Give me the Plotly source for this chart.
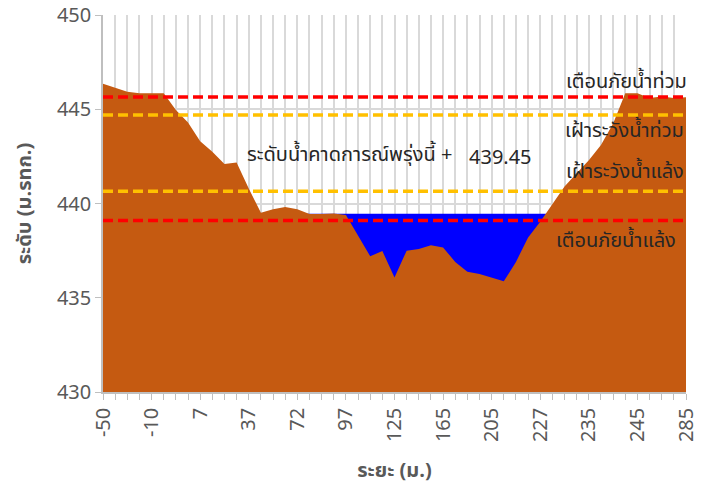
import plotly.graph_objects as go

# Cross-section: ground elevation at each survey station (m. MSL)
station_labels = ["-50", "-10", "7", "37", "72", "97", "125", "165",
                  "205", "227", "235", "245", "285"]
ground_level = [446.35, 446.15, 445.93, 445.85, 445.85, 445.85, 444.96, 444.30,
                443.30, 442.75, 442.10, 442.18, 440.80, 439.51, 439.69, 439.81,
                439.69, 439.44, 439.44, 439.47, 439.39, 438.30, 437.20, 437.48,
                436.08, 437.50, 437.59, 437.78, 437.67, 436.90, 436.38, 436.26,
                436.08, 435.87, 436.90, 438.20, 439.03, 440.00, 440.90, 441.60,
                442.30, 443.10, 444.25, 445.85, 445.85, 445.60, 445.67, 445.60,
                445.63]
forecast_level = 439.45

# Threshold levels
flood_warning = 445.65
flood_watch = 444.70
drought_watch = 440.65
drought_warning = 439.10

n = len(ground_level)
idx = list(range(n))
tick_idx = list(range(0, n, 4))

fig = go.Figure()

# Forecast water surface, drawn first so the ground profile covers it
fig.add_trace(go.Scatter(
    x=idx, y=[forecast_level] * n, mode="lines", line=dict(width=0, color="#0000FF"),
    fill="tozeroy", fillcolor="#0000FF", hoverinfo="skip", showlegend=False))

fig.add_trace(go.Scatter(
    x=idx, y=ground_level, mode="lines", line=dict(width=0, color="#C55A11"),
    fill="tozeroy", fillcolor="#C55A11", showlegend=False))

for level, color in [(flood_warning, "#FF0000"), (flood_watch, "#FFC000"),
                     (drought_watch, "#FFC000"), (drought_warning, "#FF0000")]:
    fig.add_shape(type="line", xref="x", yref="y", x0=0, x1=n - 1, y0=level, y1=level,
                  line=dict(color=color, width=3.5, dash="10px,5px"), layer="above")

thai_font = "Noto Sans Thai, Noto Sans, Tahoma, sans-serif"
label_font = dict(family=thai_font, size=20, color="#262626")

fig.add_annotation(x=n - 1, y=446.45, text="เตือนภัยน้ำท่วม", xanchor="right", xshift=3,
                   showarrow=False, font=label_font)
fig.add_annotation(x=n - 1, y=443.85, text="เฝ้าระวังน้ำท่วม", xanchor="right", xshift=0,
                   showarrow=False, font=label_font)
fig.add_annotation(x=n - 1, y=441.67, text="เฝ้าระวังน้ำแล้ง", xanchor="right", xshift=0,
                   showarrow=False, font=label_font)
fig.add_annotation(x=n - 1, y=438.0, text="เตือนภัยน้ำแล้ง", xanchor="right", xshift=-8,
                   showarrow=False, font=label_font)
fig.add_annotation(x=11.7, y=442.57, text="ระดับน้ำคาดการณ์พรุ่งนี้ +", xanchor="left",
                   showarrow=False, font=label_font)
fig.add_annotation(x=29.97, y=442.41, text=f"{forecast_level:.2f}", xanchor="left",
                   showarrow=False, font=label_font)

axis_font = dict(family="Noto Sans, sans-serif", size=20, color="#595959")

fig.update_xaxes(
    range=[0, n - 1], tickmode="array", tickvals=tick_idx, ticktext=station_labels,
    tickangle=-90, tickfont=axis_font, automargin=False,
    showgrid=True, gridcolor="#D9D9D9", gridwidth=2,
    showline=True, linecolor="#BFBFBF", linewidth=1.5,
    ticks="outside", ticklen=6, tickcolor="#BFBFBF",
    minor=dict(dtick=1, showgrid=True, gridcolor="#D9D9D9", gridwidth=2,
               ticks="outside", ticklen=6, tickcolor="#BFBFBF"),
    title=dict(text="<b>ระยะ (ม.)</b>", font=dict(family=thai_font, size=20, color="#595959"),
               standoff=22),
    zeroline=False)

fig.update_yaxes(
    range=[430, 450], dtick=5, tickfont=axis_font, automargin=False,
    showgrid=True, gridcolor="#D9D9D9", gridwidth=2,
    showline=True, linecolor="#BFBFBF", linewidth=1.5,
    ticks="outside", ticklen=6, tickcolor="#BFBFBF",
    title=dict(text="<b>ระดับ (ม.รทก.)</b>", font=dict(family=thai_font, size=20, color="#595959"),
               standoff=20),
    zeroline=False)

fig.update_layout(
    width=710, height=488,
    margin=dict(l=103, r=24, t=15, b=96),
    paper_bgcolor="white", plot_bgcolor="white",
    showlegend=False)

fig.write_html("out.html")
